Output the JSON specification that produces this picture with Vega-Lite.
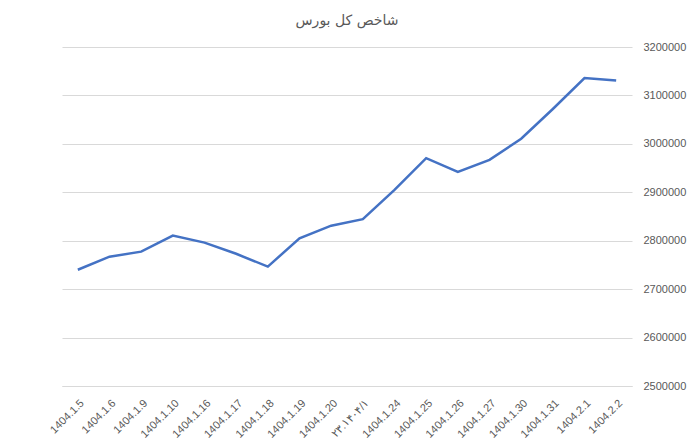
{
  "$schema": "https://vega.github.io/schema/vega-lite/v6.json",
  "width": 570,
  "height": 339,
  "autosize": "none",
  "padding": {"left": 62, "top": 47, "right": 61, "bottom": 57},
  "background": "white",
  "title": {
    "text": "شاخص کل بورس",
    "font": "DejaVu Sans",
    "fontSize": 14,
    "fontWeight": "normal",
    "color": "#595959",
    "anchor": "middle",
    "offset": 13
  },
  "data": {
    "values": [
      {"date": "1404.1.5", "value": 2740000},
      {"date": "1404.1.6", "value": 2767000},
      {"date": "1404.1.9", "value": 2777500},
      {"date": "1404.1.10", "value": 2810500},
      {"date": "1404.1.16", "value": 2796000},
      {"date": "1404.1.17", "value": 2773000},
      {"date": "1404.1.18", "value": 2746500},
      {"date": "1404.1.19", "value": 2805000},
      {"date": "1404.1.20", "value": 2831000},
      {"date": "۲۳.۱۴۰۴/۱", "value": 2844500},
      {"date": "1404.1.24", "value": 2905000},
      {"date": "1404.1.25", "value": 2970500},
      {"date": "1404.1.26", "value": 2942300},
      {"date": "1404.1.27", "value": 2967000},
      {"date": "1404.1.30", "value": 3010500},
      {"date": "1404.1.31", "value": 3072000},
      {"date": "1404.2.1", "value": 3136000},
      {"date": "1404.2.2", "value": 3131000}
    ]
  },
  "mark": {"type": "line", "color": "#4472C4", "strokeWidth": 2.5},
  "encoding": {
    "x": {
      "field": "date",
      "type": "nominal",
      "sort": null,
      "scale": {"type": "point", "padding": 0.5},
      "axis": {
        "title": null,
        "labelAngle": -45,
        "labelFont": "Liberation Sans",
        "labelFontSize": 11,
        "labelColor": "#595959",
        "ticks": false,
        "domain": true,
        "domainColor": "#d9d9d9",
        "labelPadding": 11,
        "grid": false
      }
    },
    "y": {
      "field": "value",
      "type": "quantitative",
      "scale": {"domain": [2500000, 3200000], "zero": false, "nice": false},
      "axis": {
        "orient": "right",
        "title": null,
        "values": [2500000, 2600000, 2700000, 2800000, 2900000, 3000000, 3100000, 3200000],
        "format": "d",
        "grid": true,
        "gridColor": "#d9d9d9",
        "domain": false,
        "ticks": false,
        "labelPadding": 11,
        "labelFont": "Liberation Sans",
        "labelFontSize": 11,
        "labelColor": "#595959"
      }
    }
  },
  "config": {"view": {"stroke": null}}
}
